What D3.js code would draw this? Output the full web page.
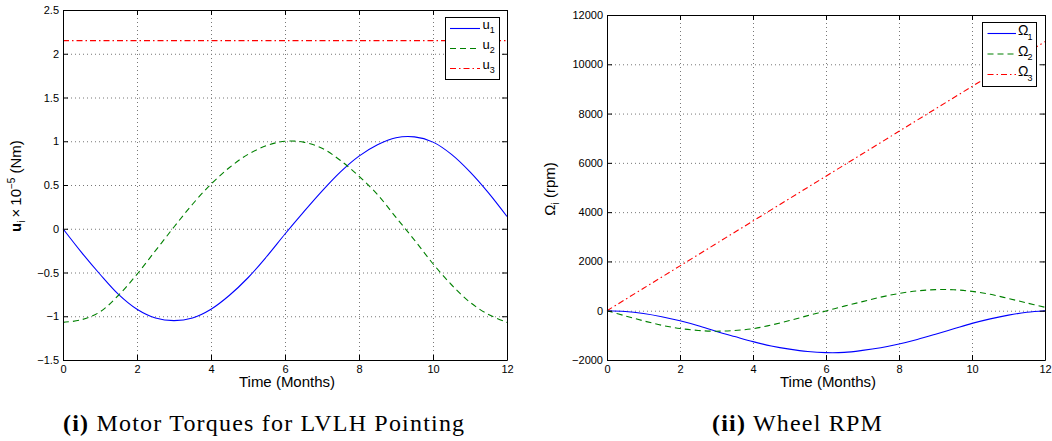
<!DOCTYPE html>
<html>
<head>
<meta charset="utf-8">
<script src="https://cdn.jsdelivr.net/npm/d3@7"></script>
<style>
  body { margin: 0; background: #fff; }
  svg { display: block; }
  text { font-family: "Liberation Sans", Arial, Helvetica, sans-serif; fill: #000; }
  .caption { font-family: "Liberation Serif", "Times New Roman", serif; letter-spacing: 1.2px; }
  .grid line { stroke: #777; stroke-width: 1; stroke-dasharray: 1 3; }
  .axis path, .axis line { stroke: #000; stroke-width: 1; }
  .axis text { font-size: 11px; }
</style>
</head>
<body>
<svg id="fig" width="1052" height="441"></svg>
<script>
// Time samples (months)
const months = [0,0.5,1,1.5,2,2.5,3,3.5,4,4.5,5,5.5,6,6.5,7,7.5,8,8.5,9,9.5,10,10.5,11,11.5,12];
const monthsWhole = [0,1,2,3,4,5,6,7,8,9,10,11,12];
const monthsEnds = [0,12];

// Motor torques, units of 1e-5 Nm
const u1 = [0,-0.27,-0.52,-0.75,-0.92,-1.02,-1.05,-1.02,-0.92,-0.76,-0.56,-0.32,-0.06,0.19,0.43,0.65,0.83,0.96,1.04,1.05,0.99,0.85,0.65,0.41,0.14];
const u2 = [-1.07,-1.04,-0.95,-0.76,-0.52,-0.25,0.02,0.28,0.51,0.70,0.85,0.95,1.00,0.99,0.92,0.78,0.60,0.39,0.13,-0.13,-0.40,-0.64,-0.84,-0.98,-1.07];
const u3 = [2.15,2.15];

// Wheel speeds, rpm
const omega1 = [0,-30,-115,-245,-410,-610,-840,-1050,-1255,-1430,-1560,-1655,-1700,-1690,-1610,-1500,-1350,-1165,-955,-735,-515,-330,-178,-65,0];
const omega2 = [0,-210,-410,-590,-722,-800,-832,-800,-730,-580,-400,-200,-10,185,370,550,700,805,855,850,785,665,495,315,140];
const omega3 = [0,910,1820,2730,3640,4550,5460,6370,7280,8190,9100,10010,10920];

// Tick values
const monthTicks = [0,2,4,6,8,10,12];
const torqueTicks = [-1.5,-1,-0.5,0,0.5,1,1.5,2,2.5];
const rpmTicks = [-2000,0,2000,4000,6000,8000,10000,12000];

const BLUE = "#0000ff", GREEN = "#008000", RED = "#ff0000";
const DASH = "6 4", DASHDOT = "6 3 1.5 3";

const svg = d3.select("#fig");
const fmt = d => (d < 0 ? "\u2212" : "") + Math.abs(d);

function panel(cfg) {
  const x = d3.scaleLinear().domain([0, 12]).range([cfg.left, cfg.right]);
  const y = d3.scaleLinear().domain(cfg.yDomain).range([cfg.bottom, cfg.top]);
  const g = svg.append("g");

  // dotted grid
  const grid = g.append("g").attr("class", "grid");
  grid.selectAll("line.v").data(monthTicks.filter(t => t > 0 && t < 12)).join("line")
    .attr("x1", d => x(d) + 0.5).attr("x2", d => x(d) + 0.5)
    .attr("y1", cfg.top).attr("y2", cfg.bottom);
  grid.selectAll("line.h").data(cfg.yTicks.filter(t => t > cfg.yDomain[0] && t < cfg.yDomain[1])).join("line")
    .attr("y1", d => y(d) + 0.5).attr("y2", d => y(d) + 0.5)
    .attr("x1", cfg.left).attr("x2", cfg.right);

  // data lines
  const lines = g.append("g");
  cfg.series.forEach(s => {
    const line = d3.line().x((d, i) => x(s.t[i])).y(d => y(d)).curve(d3.curveCatmullRom);
    lines.append("path").datum(s.v)
      .attr("fill", "none").attr("stroke", s.color).attr("stroke-width", 1.1)
      .attr("stroke-dasharray", s.dash || null)
      .attr("d", line);
  });

  // box with inward ticks on all four sides
  const tick = 5;
  g.append("g").attr("class", "axis").attr("transform", `translate(0,${cfg.bottom})`)
    .call(d3.axisBottom(x).tickValues(monthTicks).tickFormat(fmt).tickSizeInner(-tick).tickSizeOuter(0).tickPadding(5));
  g.append("g").attr("class", "axis").attr("transform", `translate(0,${cfg.top})`)
    .call(d3.axisTop(x).tickValues(monthTicks).tickFormat("").tickSizeInner(-tick).tickSizeOuter(0));
  g.append("g").attr("class", "axis").attr("transform", `translate(${cfg.left},0)`)
    .call(d3.axisLeft(y).tickValues(cfg.yTicks).tickFormat(fmt).tickSizeInner(-tick).tickSizeOuter(0).tickPadding(4));
  g.append("g").attr("class", "axis").attr("transform", `translate(${cfg.right},0)`)
    .call(d3.axisRight(y).tickValues(cfg.yTicks).tickFormat("").tickSizeInner(-tick).tickSizeOuter(0));
  g.selectAll(".axis text").attr("fill", "#000");

  // x label
  g.append("text").attr("x", (cfg.left + cfg.right) / 2 + 2).attr("y", 387)
    .attr("text-anchor", "middle").style("font-size", "15px").text("Time (Months)");

  // legend
  const L = cfg.legend;
  const lg = g.append("g");
  lg.append("rect").attr("x", L.x + 0.5).attr("y", L.y + 0.5).attr("width", L.w).attr("height", L.h)
    .attr("fill", "#fff").attr("stroke", "#000").attr("stroke-width", 1);
  cfg.series.forEach((s, i) => {
    const ly = L.y + L.first + i * L.step;
    lg.append("line").attr("x1", L.x + L.lx0).attr("x2", L.x + L.lx1).attr("y1", ly).attr("y2", ly)
      .attr("stroke", s.color).attr("stroke-width", 1.1).attr("stroke-dasharray", s.dash || null);
    const t = lg.append("text").attr("x", L.x + L.tx).attr("y", ly + L.base).style("font-size", L.fs + "px");
    t.append("tspan").text(s.sym);
    t.append("tspan").attr("dx", L.subdx).attr("dy", 4.5).style("font-size", "9px").text(s.sub);
  });

  return g;
}

// Left: motor torques
panel({
  left: 63, right: 507, top: 10, bottom: 360,
  yDomain: [-1.5, 2.5], yTicks: torqueTicks,
  series: [
    { t: months, v: u1, color: BLUE, sym: "u", sub: "1" },
    { t: months, v: u2, color: GREEN, dash: DASH, sym: "u", sub: "2" },
    { t: monthsEnds, v: u3, color: RED, dash: DASHDOT, sym: "u", sub: "3" }
  ],
  legend: { x: 445, y: 17, w: 54, h: 62, first: 11.5, step: 20, lx0: 5, lx1: 35, tx: 37.5, base: 0, fs: 13, subdx: 0 }
});

// Right: wheel speeds
panel({
  left: 607, right: 1045, top: 15, bottom: 360,
  yDomain: [-2000, 12000], yTicks: rpmTicks,
  series: [
    { t: months, v: omega1, color: BLUE, sym: "\u03A9", sub: "1" },
    { t: months, v: omega2, color: GREEN, dash: DASH, sym: "\u03A9", sub: "2" },
    { t: monthsWhole, v: omega3, color: RED, dash: DASHDOT, sym: "\u03A9", sub: "3" }
  ],
  legend: { x: 982, y: 22, w: 54, h: 64, first: 11.5, step: 20.5, lx0: 5.5, lx1: 34, tx: 36, base: 1.5, fs: 14, subdx: -1 }
});

// y labels
const yl1 = svg.append("text").attr("transform", "translate(21,186) rotate(-90)")
  .attr("text-anchor", "middle").style("font-size", "15px");
yl1.append("tspan").style("font-weight", "bold").text("u");
yl1.append("tspan").attr("dy", 4).style("font-size", "10px").text("i");
yl1.append("tspan").attr("dy", -4).text("\u2009\u00D7\u200910");
yl1.append("tspan").attr("dy", -6).style("font-size", "10px").text("\u22125");
yl1.append("tspan").attr("dy", 6).text(" (Nm)");

const yl2 = svg.append("text").attr("transform", "translate(555,189) rotate(-90)")
  .attr("text-anchor", "middle").style("font-size", "15px");
yl2.append("tspan").text("\u03A9");
yl2.append("tspan").attr("dy", 4).style("font-size", "10px").text("i");
yl2.append("tspan").attr("dy", -4).text(" (rpm)");

// captions
const c1 = svg.append("text").attr("class", "caption").attr("x", 63).attr("y", 431).style("font-size", "24px");
c1.append("tspan").style("font-weight", "bold").text("(i)");
c1.append("tspan").text(" Motor Torques for LVLH Pointing");
const c2 = svg.append("text").attr("class", "caption").attr("x", 712).attr("y", 431).style("font-size", "24px");
c2.append("tspan").style("font-weight", "bold").text("(ii)");
c2.append("tspan").text(" Wheel RPM");
</script>
</body>
</html>
